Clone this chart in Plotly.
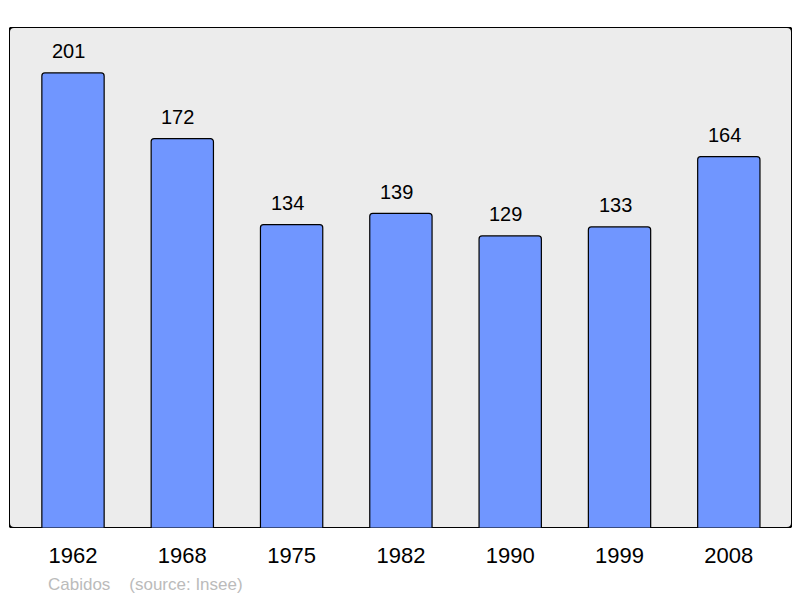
import plotly.graph_objects as go

years = ["1962", "1968", "1975", "1982", "1990", "1999", "2008"]
population = [201, 172, 134, 139, 129, 133, 164]

BAR = "#7096FF"
BG = "#ECECEC"

fig = go.Figure()
fig.add_trace(go.Bar(
    x=years, y=population,
    width=0.57,
    marker=dict(color=BAR, line=dict(color="black", width=1.2)),
    hoverinfo="skip",
))

for i, v in enumerate(population):
    fig.add_annotation(x=i, y=v, text=str(v), showarrow=False,
                       yanchor="middle", yshift=21.5, xshift=-4.5,
                       font=dict(family="Liberation Sans, Arial", size=20, color="black"))

# rounded frame in data coords
x0, x1 = -0.5855, 6.578
y0, y1 = 0, 221.3
rx, ry = 5 / 109.3, 5 / 2.2637
path = (f"M {x0+rx},{y0} L {x1-rx},{y0} Q {x1},{y0} {x1},{y0+ry} "
        f"L {x1},{y1-ry} Q {x1},{y1} {x1-rx},{y1} "
        f"L {x0+rx},{y1} Q {x0},{y1} {x0},{y1-ry} "
        f"L {x0},{y0+ry} Q {x0},{y0} {x0+rx},{y0} Z")
fig.add_shape(type="path", path=path, xref="x", yref="y",
              fillcolor=BG, line=dict(color="black", width=2), layer="below")

pw = 800 - 9 - 8
ph = 598 - 27 - 70
fig.add_annotation(x=(46 - 9) / pw, y=(598 - 70 - 584) / ph, xref="paper", yref="paper",
                   text="Cabidos&nbsp;&nbsp;&nbsp;&nbsp;(source: Insee)",
                   showarrow=False, xanchor="left", yanchor="middle",
                   font=dict(family="Liberation Sans, Arial", size=17, color="#BBBBBB"))

fig.update_layout(
    width=800, height=598,
    margin=dict(l=9, r=8, t=27, b=70, autoexpand=False),
    paper_bgcolor="white", plot_bgcolor="rgba(0,0,0,0)",
    showlegend=False,
    barcornerradius=3,
    xaxis=dict(type="category", range=[x0, x1], showgrid=False, zeroline=False,
               showline=False, ticks="outside", ticklen=8, tickcolor="rgba(0,0,0,0)",
               tickfont=dict(family="Liberation Sans, Arial", size=22, color="black"),
               fixedrange=True),
    yaxis=dict(range=[y0, y1], showgrid=False, zeroline=False, showticklabels=False,
               showline=False, fixedrange=True),
)

fig.write_html("out.html", config={"displayModeBar": False},
               post_script="document.body.style.margin='0';")
